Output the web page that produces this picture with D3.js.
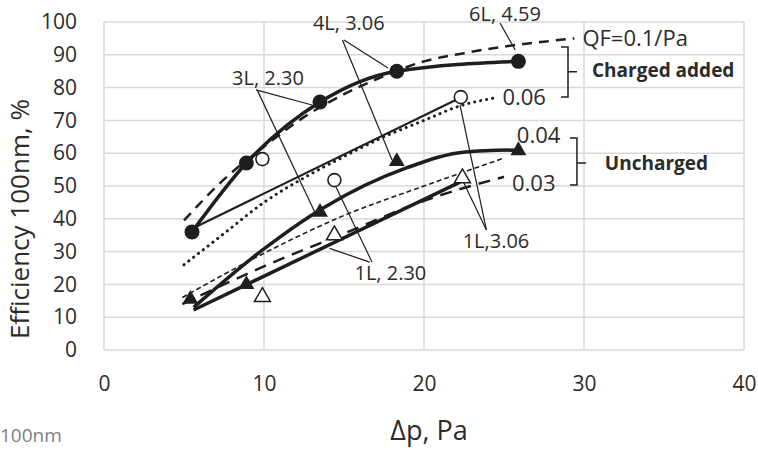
<!DOCTYPE html>
<html>
<head>
<meta charset="utf-8">
<script src="https://cdn.jsdelivr.net/npm/d3@7"></script>
<style>
  body { margin: 0; background: #fff; }
  text { font-family: "Open Sans", sans-serif; fill: #2b2b2b; }
</style>
</head>
<body>
<div id="chart"></div>
<script>
// values (Δp in Pa, efficiency in %)
var xTicks = [0, 10, 20, 30, 40]
var yTicks = [0, 10, 20, 30, 40, 50, 60, 70, 80, 90, 100]

// QF reference curves
var qf10X = [5, 7.5, 10, 12.5, 15, 17.5, 20, 22.5, 25, 27.5, 29.4]
var qf10Y = [39.5, 52, 62, 71, 78, 83.5, 88, 90.5, 92.5, 94, 95]
var qf06X = [5, 7.5, 10, 12.5, 15, 17.5, 20, 22.3, 24.6]
var qf06Y = [26, 35.5, 45, 52.5, 59, 65, 70, 74.5, 77]
var qf04X = [4.9, 10, 15, 20, 25]
var qf04Y = [16, 29.5, 41, 50, 58.5]
var qf03X = [4.9, 10, 15, 20, 25]
var qf03Y = [14, 25.5, 35.5, 45.5, 52.8]

// fitted lines
var chargedCurveX = [5.5, 8.9, 13.5, 18.3, 25.9]
var chargedCurveY = [36, 57, 75.6, 85, 88]
var chargedLineX = [5.5, 22.3]
var chargedLineY = [37, 77]
var unchargedCurveX = [5.6, 9.75, 13.7, 18.9, 22.6, 25.9]
var unchargedCurveY = [13, 29.9, 43.3, 55.5, 60.4, 61]
var unchargedLineX = [5.6, 22.25]
var unchargedLineY = [12.2, 51.2]

// measured points
var filledCircleX = [5.5, 8.9, 13.5, 18.3, 25.9]
var filledCircleY = [36, 57, 75.6, 85, 88]
var openCircleX = [9.9, 14.4, 22.3]
var openCircleY = [58.2, 51.8, 77.1]
var filledTriX = [5.4, 8.9, 13.5, 18.3, 25.9]
var filledTriY = [15.5, 20, 42, 57.5, 60.8]
var openTriX = [9.9, 14.4, 22.4]
var openTriY = [16.2, 35, 52.4]

// annotation labels, anchored in data units
var pointLabels = [
  { text: '3L, 2.30', x: 10.25, y: 80.8, leaders: [[9.5, 79.3, 13.0, 74.7], [9.6, 79.0, 13.2, 41.8]] },
  { text: '4L, 3.06', x: 15.3, y: 97.6, leaders: [[15.0, 94.5, 17.75, 86], [14.9, 94.5, 18.0, 57.9]] },
  { text: '6L, 4.59', x: 25.06, y: 100.2, leaders: [[24.75, 99.7, 25.7, 91.5]] },
  { text: '1L, 2.30', x: 17.9, y: 21.3, leaders: [[16.75, 26.8, 14.5, 49.7], [16.6, 26.8, 14.1, 31]] },
  { text: '1L,3.06', x: 24.5, y: 31.1, leaders: [[23.9, 36.6, 22.25, 74.7], [23.9, 36.6, 22.4, 51.8]] }
]
var qfLabels = [
  { text: 'QF=0.1/Pa', x: 29.9, y: 95.1 },
  { text: '0.06', x: 24.9, y: 77.1 },
  { text: '0.04', x: 25.8, y: 65.5 },
  { text: '0.03', x: 25.5, y: 50.9 }
]
var groupLabels = [
  { text: 'Charged added', x: 30.5, y: 85.4, bx: 29.0, top: 92.4, bottom: 77.1, mid: 84.8 },
  { text: 'Uncharged', x: 31.3, y: 57, bx: 29.56, top: 64.6, bottom: 50.3, mid: 57 }
]

function zip(xs, ys) { return xs.map(function (v, i) { return [v, ys[i]] }) }

var width = 758
var height = 450

var svg = d3.select('#chart')
  .append('svg')
  .attr('width', width)
  .attr('height', height)

var x = d3.scaleLinear().domain([0, 40]).range([104, 744])
var y = d3.scaleLinear().domain([0, 100]).range([350, 22])

// grid
svg.append('g')
  .selectAll('line')
  .data(yTicks)
  .enter()
  .append('line')
  .attr('x1', x(0)).attr('x2', x(40))
  .attr('y1', function (d) { return y(d) }).attr('y2', function (d) { return y(d) })
  .style('stroke', '#d9d9d9')
  .style('stroke-width', 1.5)

svg.append('g')
  .selectAll('line')
  .data(xTicks)
  .enter()
  .append('line')
  .attr('x1', function (d) { return x(d) }).attr('x2', function (d) { return x(d) })
  .attr('y1', y(0)).attr('y2', y(100))
  .style('stroke', '#d9d9d9')
  .style('stroke-width', 1.5)

// axes (tick labels only, Excel style)
var yAxis = svg.append('g')
  .attr('transform', 'translate(' + (x(0) - 27) + ',0)')
  .call(d3.axisLeft(y).tickValues(yTicks).tickSize(0).tickPadding(0))
yAxis.select('.domain').remove()
yAxis.selectAll('text').style('font-size', '21px').style('font-family', '"Open Sans", sans-serif').attr('fill', '#2b2b2b')

var xAxis = svg.append('g')
  .attr('transform', 'translate(0,' + (y(0) + 26) + ')')
  .call(d3.axisBottom(x).tickValues(xTicks).tickSize(0).tickPadding(0))
xAxis.select('.domain').remove()
xAxis.selectAll('text').style('font-size', '21px').style('font-family', '"Open Sans", sans-serif').attr('fill', '#2b2b2b')

// axis titles
svg.append('text')
  .attr('transform', 'translate(29,' + 219 + ') rotate(-90)')
  .attr('text-anchor', 'middle')
  .style('font-size', '26px')
  .text('Efficiency 100nm, %')

svg.append('text')
  .attr('x', 429)
  .attr('y', 440)
  .attr('text-anchor', 'middle')
  .style('font-size', '27px')
  .text('\u0394p, Pa')

svg.append('text')
  .attr('x', 0)
  .attr('y', 442)
  .style('font-size', '19px')
  .style('fill', '#808080')
  .text('100nm')

// lines
var line = d3.line().x(function (d) { return x(d[0]) }).y(function (d) { return y(d[1]) })
var curve = d3.line().curve(d3.curveMonotoneX).x(function (d) { return x(d[0]) }).y(function (d) { return y(d[1]) })

var series = [
  { pts: zip(qf10X, qf10Y), gen: curve, w: 2.5, dash: '10,7' },
  { pts: zip(qf06X, qf06Y), gen: curve, w: 3, dash: '0.1,6', cap: 'round' },
  { pts: zip(qf04X, qf04Y), gen: curve, w: 1.6, dash: '5,3' },
  { pts: zip(qf03X, qf03Y), gen: curve, w: 2.5, dash: '12,8' },
  { pts: zip(chargedLineX, chargedLineY), gen: line, w: 2.2 },
  { pts: zip(chargedCurveX, chargedCurveY), gen: curve, w: 3.5 },
  { pts: zip(unchargedLineX, unchargedLineY), gen: line, w: 3.5 },
  { pts: zip(unchargedCurveX, unchargedCurveY), gen: curve, w: 3.5 }
]

svg.append('g')
  .selectAll('path')
  .data(series)
  .enter()
  .append('path')
  .attr('d', function (d) { return d.gen(d.pts) })
  .style('fill', 'none')
  .style('stroke', '#1e1e1e')
  .style('stroke-width', function (d) { return d.w })
  .style('stroke-dasharray', function (d) { return d.dash || null })
  .style('stroke-linecap', function (d) { return d.cap || 'butt' })

// leader lines for labels
var leaders = []
pointLabels.forEach(function (l) { l.leaders.forEach(function (s) { leaders.push(s) }) })
svg.append('g')
  .selectAll('line')
  .data(leaders)
  .enter()
  .append('line')
  .attr('x1', function (d) { return x(d[0]) }).attr('y1', function (d) { return y(d[1]) })
  .attr('x2', function (d) { return x(d[2]) }).attr('y2', function (d) { return y(d[3]) })
  .style('stroke', '#1e1e1e')
  .style('stroke-width', 1.2)

// markers
var tri = d3.symbol().type(d3.symbolTriangle).size(110)

svg.append('g')
  .selectAll('circle')
  .data(zip(filledCircleX, filledCircleY))
  .enter()
  .append('circle')
  .attr('cx', function (d) { return x(d[0]) })
  .attr('cy', function (d) { return y(d[1]) })
  .attr('r', 7.5)
  .style('fill', '#1e1e1e')

svg.append('g')
  .selectAll('circle')
  .data(zip(openCircleX, openCircleY))
  .enter()
  .append('circle')
  .attr('cx', function (d) { return x(d[0]) })
  .attr('cy', function (d) { return y(d[1]) })
  .attr('r', 6.5)
  .style('fill', '#fff')
  .style('stroke', '#1e1e1e')
  .style('stroke-width', 1.6)

svg.append('g')
  .selectAll('path')
  .data(zip(filledTriX, filledTriY))
  .enter()
  .append('path')
  .attr('d', tri)
  .attr('transform', function (d) { return 'translate(' + x(d[0]) + ',' + y(d[1]) + ')' })
  .style('fill', '#1e1e1e')

svg.append('g')
  .selectAll('path')
  .data(zip(openTriX, openTriY))
  .enter()
  .append('path')
  .attr('d', tri)
  .attr('transform', function (d) { return 'translate(' + x(d[0]) + ',' + y(d[1]) + ')' })
  .style('fill', '#fff')
  .style('stroke', '#1e1e1e')
  .style('stroke-width', 1.5)

// point labels
svg.append('g')
  .selectAll('text')
  .data(pointLabels)
  .enter()
  .append('text')
  .attr('x', function (d) { return x(d.x) })
  .attr('y', function (d) { return y(d.y) })
  .attr('text-anchor', 'middle')
  .style('font-size', '20px')
  .text(function (d) { return d.text })

// QF labels
svg.append('g')
  .selectAll('text')
  .data(qfLabels)
  .enter()
  .append('text')
  .attr('x', function (d) { return x(d.x) })
  .attr('y', function (d) { return y(d.y) })
  .attr('dy', '0.35em')
  .style('font-size', '22px')
  .text(function (d) { return d.text })

// group brackets and labels
var brackets = svg.append('g')
groupLabels.forEach(function (g) {
  var bx = x(g.bx)
  var p = 'M' + (bx - 7) + ',' + y(g.top) + 'H' + bx + 'V' + y(g.bottom) + 'H' + (bx - 7) +
    'M' + bx + ',' + y(g.mid) + 'H' + (bx + 9)
  brackets.append('path')
    .attr('d', p)
    .style('fill', 'none')
    .style('stroke', '#1e1e1e')
    .style('stroke-width', 1.5)
  brackets.append('text')
    .attr('x', x(g.x))
    .attr('y', y(g.y))
    .attr('dy', '0.35em')
    .style('font-size', '19px')
    .style('font-weight', 'bold')
    .text(g.text)
})
</script>
</body>
</html>
